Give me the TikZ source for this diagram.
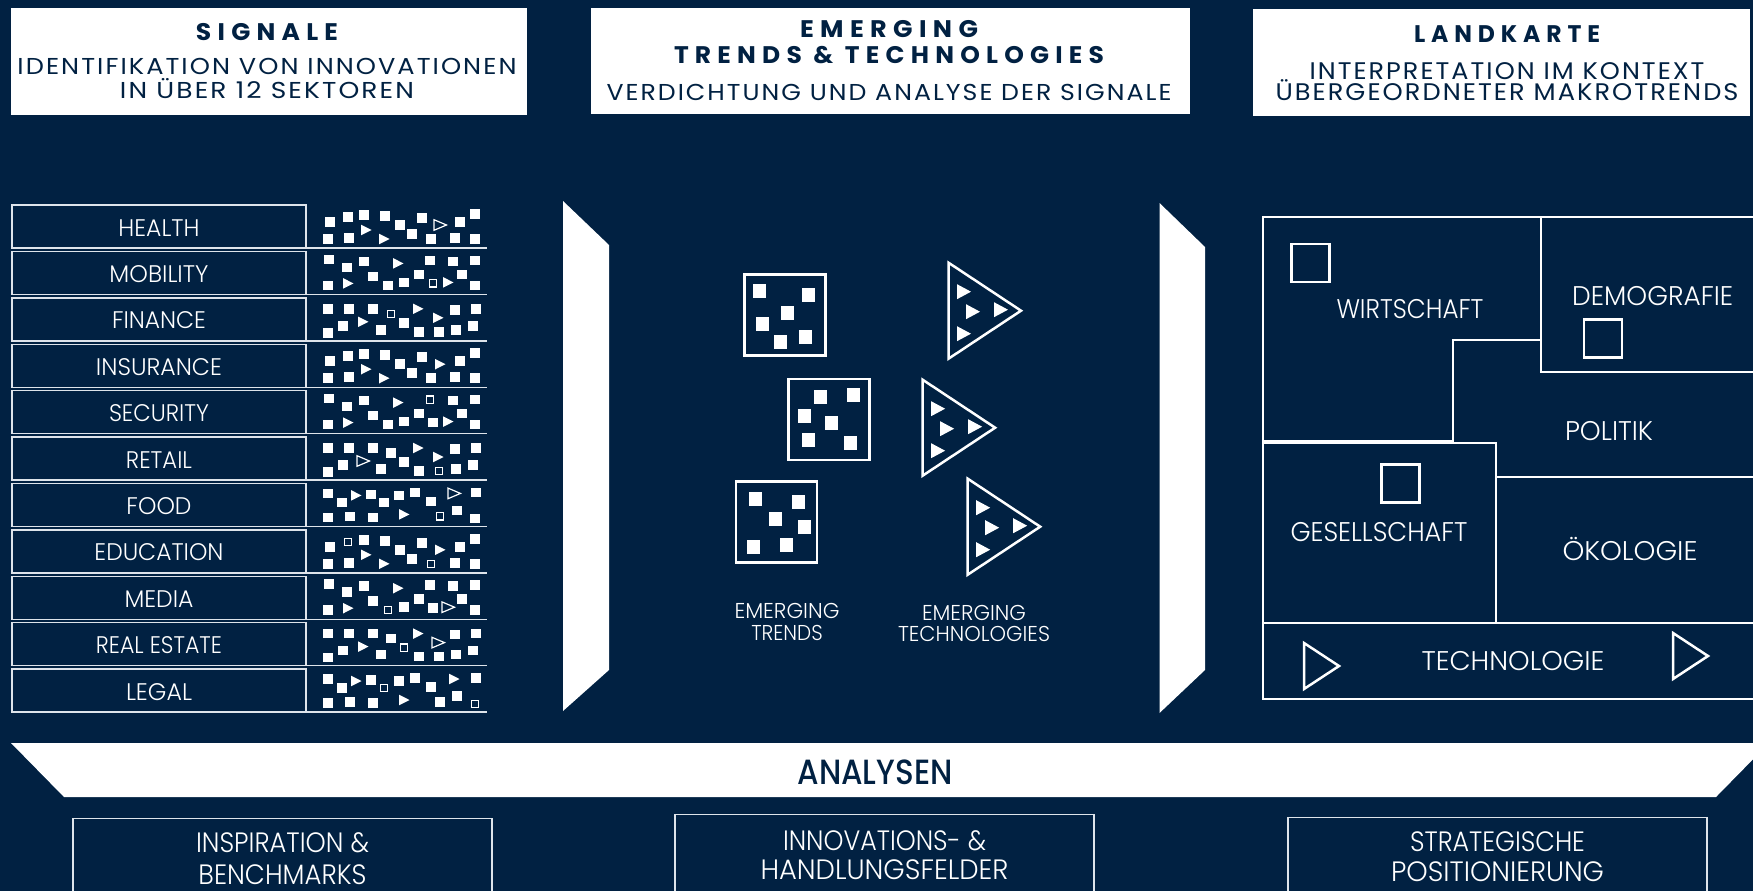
\documentclass[tikz,border=0pt]{standalone}
\usepackage{fontspec}
\usepackage{graphicx}
\setmainfont{Poppins}
\newfontfamily\lightf{Poppins Light}
\newfontfamily\medf{Poppins Medium}
\definecolor{navy}{RGB}{1,33,66}
\definecolor{linec}{RGB}{222,228,235}
\newcommand\W[2]{\resizebox{#1pt}{\height}{#2}}
\newcommand\hdT{\fontsize{24}{24}\selectfont\bfseries\addfontfeature{LetterSpace=25}}
\newcommand\hdS{\fontsize{23}{23}\selectfont\addfontfeature{LetterSpace=8}}
\newcommand\hdSS{\fontsize{24}{24}\selectfont\addfontfeature{LetterSpace=8}}
\newcommand\rowf{\lightf\fontsize{24}{24}\selectfont}
\newcommand\mapf{\lightf\fontsize{27}{27}\selectfont}
\newcommand\midf{\lightf\fontsize{21.5}{21.5}\selectfont}
\newcommand\botf{\lightf\fontsize{28}{28}\selectfont}
\newcommand\anf{\medf\fontsize{35}{35}\selectfont}
\newcommand\gly[4]{%
 \begin{scope}[shift={(323+#2,#4+#3)}]
 \ifcase#1\or
   \fill[white] (-4.75,-4.75) rectangle (4.75,4.75);
 \or
   \draw[white,line width=1.3pt] (-3.6,-3.6) rectangle (3.6,3.6);
 \or
   \fill[white] (-5,-5.3) -- (-5,5.3) -- (5.5,0) -- cycle;
 \or
   \draw[white,line width=1.2pt,line join=miter] (-6,-5.3) -- (-6,5.3) -- (6.5,0) -- cycle;
 \fi
 \end{scope}}
\tikzset{
 wbox/.style={fill=white, draw=none, inner sep=0pt},
 hdr/.style={inner sep=0pt, anchor=base, text=navy},
 txt/.style={inner sep=0pt, anchor=base, text=white},
 rowbox/.style={draw=linec, line width=1.4pt, minimum width=294, minimum height=43, inner sep=0pt, outer sep=0pt},
 rowline/.style={draw=linec, line width=1.4pt},
 tbox/.style={draw=white, line width=2.5pt, minimum size=81, inner sep=0pt},
 trishape/.style={draw=white, line width=2.5pt, line join=miter},
 mapline/.style={draw=white, line width=2pt},
 msq/.style={draw=white, line width=2.5pt, minimum size=38, inner sep=0pt},
 btmbox/.style={draw=linec, line width=1.4pt, inner sep=0pt, minimum width=419, minimum height=100, anchor=north},
}
\begin{document}
\begin{tikzpicture}[x=1pt,y=-1pt]
\fill[navy] (0,0) rectangle (1753,891);
\useasboundingbox (0,0) rectangle (1753,891);

% ---------- header boxes
\node[wbox, minimum width=516, minimum height=107] (h1) at (269,61.5) {};
\node[wbox, minimum width=599, minimum height=106] (h2) at (890.5,61) {};
\node[wbox, minimum width=497, minimum height=107] (h3) at (1501.5,62.5) {};

\node[hdr, font=\hdT] (h1a) at (267,41) {\W{142}{SIGNALE}};
\node[hdr, font=\hdS] (h1b) at (267,74.8) {\W{499}{IDENTIFIKATION VON INNOVATIONEN}};
\node[hdr, font=\hdS] (h1c) at (267,98.5) {\W{294}{IN ÜBER 12 SEKTOREN}};

\node[hdr, font=\hdT] (h2a) at (889,37.5) {\W{178}{EMERGING}};
\node[hdr, font=\hdT] (h2b) at (889,63.5) {\W{430}{TRENDS \& TECHNOLOGIES}};
\node[hdr, font=\hdS] (h2c) at (889,100) {\W{565}{VERDICHTUNG UND ANALYSE DER SIGNALE}};

\node[hdr, font=\hdT] (h3a) at (1507,42.3) {\W{186}{LANDKARTE}};
\node[hdr, font=\hdSS] (h3b) at (1507,79) {\W{395}{INTERPRETATION IM KONTEXT}};
\node[hdr, font=\hdSS] (h3c) at (1507,100.5) {\W{463}{ÜBERGEORDNETER MAKROTRENDS}};

% ---------- sector rows
\foreach \i/\lab/\w in {0/HEALTH/81,1/MOBILITY/99,2/FINANCE/94,3/INSURANCE/126,4/SECURITY/100,5/RETAIL/66,6/FOOD/65,7/EDUCATION/129,8/MEDIA/69,9/REAL ESTATE/126,10/LEGAL/66} {
  \pgfmathsetmacro\rt{205+46.4*\i}
  \node[rowbox] (r\i) at (159,\rt+21.5) {};
  \draw[rowline] (r\i.south east) -- ++(181,0);
  \node[txt, font=\rowf] (rl\i) at (159,\rt+31) {\W{\w}{\lab}};
}

% signal glyphs: 1 square, 2 open square, 3 triangle, 4 open triangle
\foreach \t/\x/\y in {1/7/17,1/25/12,1/41/10,3/43/25,1/62/11,3/61/34,1/77/20,1/89/29,1/99/13,4/117/20,1/137/17,1/152/9,1/5/34,1/26/33,1/108/34,1/132/33,1/152/34} {\gly{\t}{\x}{\y}{205}}
\foreach \t/\x/\y in {1/6/8,1/24/16,1/41/10,3/75/12,1/107/9,1/130/10,1/152/9,1/5/34,3/25/32,1/50/25,1/65/34,1/81/31,1/96/23,2/110/32,3/125/31,1/139/23,1/152/34} {\gly{\t}{\x}{\y}{251.4}}
\foreach \t/\x/\y in {1/5/11,1/26/11,1/50/11,2/68/16,3/95/11,3/115/20,1/132/12,1/153/11,1/5/35,1/20/28,3/40/24,1/58/32,1/81/25,1/96/34,1/116/34,1/133/32,1/150/28} {\gly{\t}{\x}{\y}{297.8}}
\foreach \t/\x/\y in {1/7/17,1/25/12,1/41/10,3/43/25,1/62/11,3/61/34,1/77/20,1/89/29,1/99/13,3/117/20,1/137/17,1/152/9,1/5/34,1/26/33,1/108/34,1/132/33,1/152/34} {\gly{\t}{\x}{\y}{344.2}}
\foreach \t/\x/\y in {1/6/8,1/24/16,1/41/10,3/75/12,2/107/9,1/130/10,1/152/9,1/5/34,3/25/32,1/50/25,1/65/34,1/81/31,1/96/23,1/110/32,3/125/31,1/139/23,1/152/34} {\gly{\t}{\x}{\y}{390.6}}
\foreach \t/\x/\y in {1/5/11,1/26/11,1/50/11,1/68/16,3/95/11,3/115/20,1/132/12,1/153/11,1/5/35,1/20/28,4/40/24,1/58/32,1/81/25,1/96/34,2/116/34,1/133/32,1/150/28} {\gly{\t}{\x}{\y}{437}}
\foreach \t/\x/\y in {1/5/10,1/19/19,3/33/12,1/48/11,1/61/19,1/76/12,1/92/9,1/108/18,4/131/10,1/153/9,1/5/34,1/27/33,1/50/34,3/81/31,2/117/33,1/134/27,1/152/35} {\gly{\t}{\x}{\y}{483.4}}
\foreach \t/\x/\y in {1/7/17,2/25/12,1/41/10,3/43/25,1/62/11,3/61/34,1/77/20,1/89/29,1/99/13,3/117/20,1/137/17,1/152/9,1/5/34,1/26/33,2/108/34,1/132/33,1/152/34} {\gly{\t}{\x}{\y}{529.8}}
\foreach \t/\x/\y in {1/6/8,1/24/16,1/41/10,3/75/12,1/107/9,1/130/10,1/152/9,1/5/34,3/25/32,1/50/25,2/65/34,1/81/31,1/96/23,1/110/32,4/125/31,1/139/23,1/152/34} {\gly{\t}{\x}{\y}{576.2}}
\foreach \t/\x/\y in {1/5/11,1/26/11,1/50/11,1/68/16,3/95/11,4/115/20,1/132/12,1/153/11,1/5/35,1/20/28,3/40/24,1/58/32,2/81/25,1/96/34,1/116/34,1/133/32,1/150/28} {\gly{\t}{\x}{\y}{622.6}}
\foreach \t/\x/\y in {1/5/10,1/19/19,3/33/12,1/48/11,2/61/19,1/76/12,1/92/9,1/108/18,3/131/10,1/153/9,1/5/34,1/27/33,1/50/34,3/81/31,1/117/33,1/134/27,2/152/35} {\gly{\t}{\x}{\y}{669}}

% ---------- chevrons
\fill[white] (563,201) -- (609,245) -- (609,670) -- (563,711) -- cycle;
\fill[white] (1159.5,203) -- (1205,247) -- (1205,670) -- (1159.5,713) -- cycle;

% ---------- emerging trends boxes
\node[tbox] (tb1) at (785,315) {};
\node[tbox] (tb2) at (829,419.5) {};
\node[tbox] (tb3) at (776.5,522) {};
\begin{scope}[shift={(744,274)}]
\foreach \x/\y in {15.5/17,64/21,43/39,18/50,36/68,61/63} \fill[white] (\x-6.5,\y-7) rectangle ++(13,14);
\end{scope}
\begin{scope}[shift={(788,379)}]
\foreach \x/\y in {32.5/17.5,65/16,16.5/36.5,43/44,20/61,62/63.5} \fill[white] (\x-6.5,\y-7) rectangle ++(13,14);
\end{scope}
\begin{scope}[shift={(735.5,481)}]
\foreach \x/\y in {20/17.5,62.5/20.5,39.5/37.5,68.5/45.5,17.5/65.5,50.5/63.5} \fill[white] (\x-6.5,\y-7) rectangle ++(13,14);
\end{scope}

% ---------- emerging technologies triangles
\foreach \lx/\cy in {948.5/310.7, 922.6/427.7, 967.7/526.7} {
  \draw[trishape] (\lx,\cy-48) -- (\lx,\cy+48) -- (\lx+72.5,\cy) -- cycle;
  \begin{scope}[shift={(\lx,\cy)}]
  \foreach \x/\y in {8.5/-19,17.5/1,45.5/-1,8.5/23} \fill[white] (\x,\y-7.5) -- (\x,\y+7.5) -- (\x+14,\y) -- cycle;
  \end{scope}
}

\node[txt, font=\midf] (et1) at (787,618) {\W{105}{EMERGING}};
\node[txt, font=\midf] (et2) at (787,640) {\W{71.5}{TRENDS}};
\node[txt, font=\midf] (ec1) at (974,620) {\W{104}{EMERGING}};
\node[txt, font=\midf] (ec2) at (974,641.5) {\W{152}{TECHNOLOGIES}};

% ---------- map
\draw[mapline] (1753,217) -- (1263,217) -- (1263,699) -- (1753,699);
\draw[mapline] (1541,217) -- (1541,372) -- (1753,372);
\draw[mapline] (1541,340) -- (1453,340) -- (1453,441) -- (1263,441);
\draw[mapline] (1263,442.5) -- (1496,442.5) -- (1496,623);
\draw[mapline] (1496,477) -- (1753,477);
\draw[mapline] (1263,623) -- (1753,623);
\node[msq] (sqw) at (1310.5,263) {};
\node[msq] (sqd) at (1603,338.5) {};
\node[msq] (sqg) at (1400.5,483.5) {};
\draw[trishape] (1304,643) -- (1304,689) -- (1339,666) -- cycle;
\draw[trishape] (1673,633) -- (1673,679) -- (1708,656) -- cycle;

\node[txt, font=\mapf] (mw) at (1410,318.3) {\W{147}{WIRTSCHAFT}};
\node[txt, font=\mapf] (md) at (1652.7,305) {\W{161}{DEMOGRAFIE}};
\node[txt, font=\mapf] (mp) at (1609,440) {\W{88}{POLITIK}};
\node[txt, font=\mapf] (mg) at (1379,541.7) {\W{177}{GESELLSCHAFT}};
\node[txt, font=\mapf] (mo) at (1630,560) {\W{135}{ÖKOLOGIE}};
\node[txt, font=\mapf] (mt) at (1513,670) {\W{183}{TECHNOLOGIE}};

% ---------- analysen band
\fill[white] (11,743) -- (1769,743) -- (1716,797) -- (64,797) -- cycle;
\node[hdr, font=\anf] (an) at (875,784.3) {\W{155}{ANALYSEN}};

% ---------- bottom boxes
\node[btmbox] (b1) at (282.5,818) {};
\node[btmbox] (b2) at (884.5,814) {};
\node[btmbox] (b3) at (1497.5,817) {};
\node[txt, font=\botf] (b1a) at (282.5,852.7) {\W{173}{INSPIRATION \&}};
\node[txt, font=\botf] (b1b) at (282.5,884) {\W{168}{BENCHMARKS}};
\node[txt, font=\botf] (b2a) at (884.5,850) {\W{203}{INNOVATIONS- \&}};
\node[txt, font=\botf] (b2b) at (884.5,879) {\W{248}{HANDLUNGSFELDER}};
\node[txt, font=\botf] (b3a) at (1497.5,851.7) {\W{175}{STRATEGISCHE}};
\node[txt, font=\botf] (b3b) at (1497.5,881.7) {\W{213}{POSITIONIERUNG}};
\end{tikzpicture}
\end{document}
